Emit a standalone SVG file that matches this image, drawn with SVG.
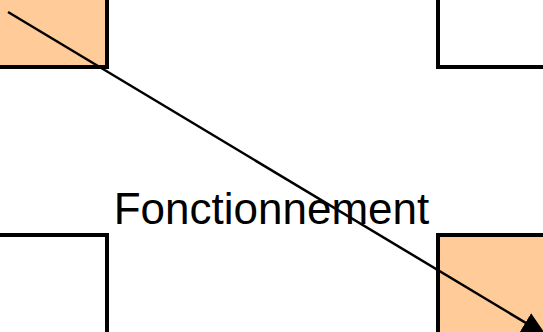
<svg xmlns="http://www.w3.org/2000/svg" width="543" height="332" viewBox="0 0 543 332">
<style>
.box{stroke:#000;stroke-width:4}
.orange{fill:#FFCC99}
.white{fill:#FFFFFF}
.conn{stroke:#000;stroke-width:2.5;fill:none}
.lbl{font-family:"Liberation Sans",Arial,sans-serif;font-size:44px;fill:#000}
</style>
<defs>
<marker id="arrow" markerUnits="userSpaceOnUse" markerWidth="24" markerHeight="22" refX="24" refY="11" orient="auto">
<path d="M0,0 L24,11 L0,22 z" fill="#000"/>
</marker>
</defs>
<rect width="543" height="332" fill="#FFFFFF"/>
<g id="node-top-left"><rect class="box orange" x="-10" y="-10" width="117" height="77"/></g>
<g id="node-top-right"><rect class="box white" x="438" y="-10" width="120" height="77"/></g>
<g id="node-bottom-left"><rect class="box white" x="-10" y="235" width="117" height="110"/></g>
<g id="node-bottom-right"><rect class="box orange" x="438" y="235" width="120" height="110"/></g>
<g id="label"><text class="lbl" x="271.5" y="224" text-anchor="middle">Fonctionnement</text></g>
<g id="connectors"><line class="conn" x1="8" y1="12" x2="546" y2="335" marker-end="url(#arrow)"/></g>
</svg>
